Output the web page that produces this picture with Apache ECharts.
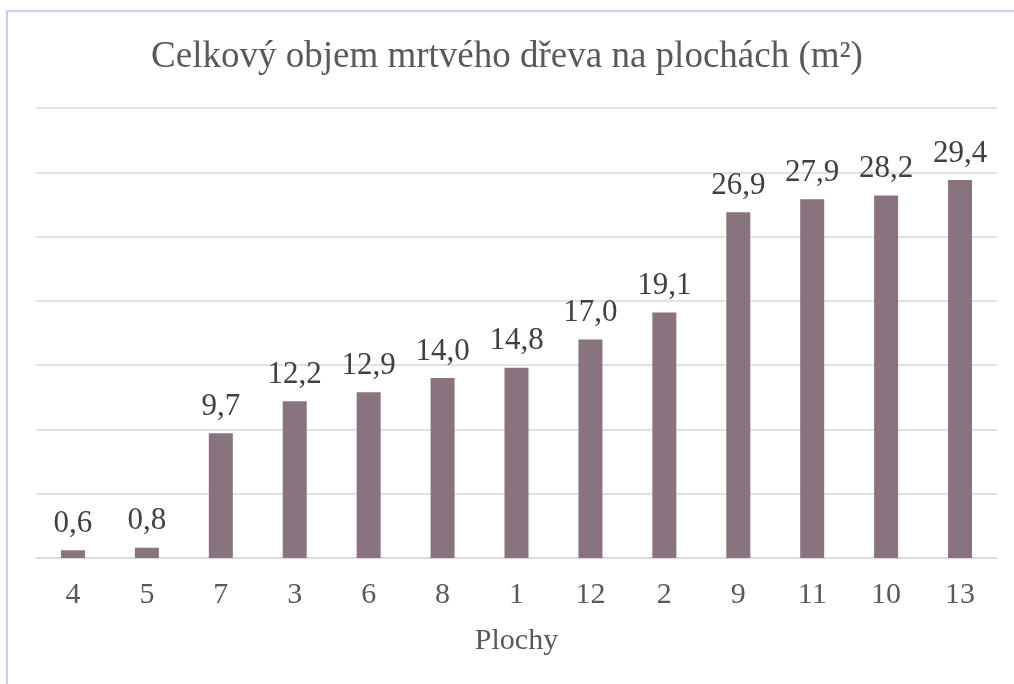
<!DOCTYPE html>
<html>
<head>
<meta charset="utf-8">
<script src="https://cdn.jsdelivr.net/npm/echarts@6/dist/echarts.min.js"></script>
<style>
  html, body { margin: 0; padding: 0; background: #fff; }
  .frame {
    position: absolute;
    left: 6px;
    top: 10px;
    width: 1020px;
    height: 690px;
    border-top: 2px solid #dcc8fb;
    border-left: 2px solid #d8c4f7;
    box-sizing: border-box;
  }
  #chartBox { position: absolute; left: 0; top: 0; width: 1014px; height: 684px; }
</style>
</head>
<body>
<div class="frame"></div>
<div id="chartBox"></div>
<script>
// plochy (osa x)
const plochy = ['4', '5', '7', '3', '6', '8', '1', '12', '2', '9', '11', '10', '13']
// objem mrtveho dreva
const objem = [0.6, 0.8, 9.7, 12.2, 12.9, 14.0, 14.8, 17.0, 19.1, 26.9, 27.9, 28.2, 29.4]
// osa y
const yMin = 0
const yMax = 35
const yStep = 5

const font = '"Liberation Serif", "DejaVu Serif", serif'

const myChart = echarts.init(document.getElementById('chartBox'))
const option = {
  animation: false,
  title: {
    text: 'Celkový objem mrtvého dřeva na plochách (m²)',
    left: 'center',
    top: 34,
    textStyle: {
      fontFamily: font,
      fontSize: 37,
      fontWeight: 'normal',
      color: '#595959'
    }
  },
  grid: {
    left: 36,
    right: 17,
    top: 108,
    bottom: 126
  },
  xAxis: {
    type: 'category',
    data: plochy,
    name: 'Plochy',
    nameLocation: 'middle',
    nameGap: 68,
    nameTextStyle: {
      fontFamily: font,
      fontSize: 30,
      color: '#595959'
    },
    axisLine: { lineStyle: { color: '#d9d9d9', width: 1.5 } },
    axisTick: { show: false },
    axisLabel: {
      fontFamily: font,
      fontSize: 30,
      color: '#595959',
      margin: 22
    }
  },
  yAxis: {
    type: 'value',
    min: yMin,
    max: yMax,
    interval: yStep,
    axisLabel: { show: false },
    axisLine: { show: false },
    axisTick: { show: false },
    splitLine: { lineStyle: { color: '#d9d9d9', width: 1.5 } }
  },
  series: [{
    type: 'bar',
    data: objem,
    barWidth: 24,
    itemStyle: { color: '#89737f' },
    label: {
      show: true,
      position: 'top',
      distance: 11,
      fontFamily: font,
      fontSize: 31,
      color: '#404040',
      formatter: function (p) {
        return p.value.toFixed(1).replace('.', ',')
      }
    }
  }]
}
myChart.setOption(option)
</script>
</body>
</html>
